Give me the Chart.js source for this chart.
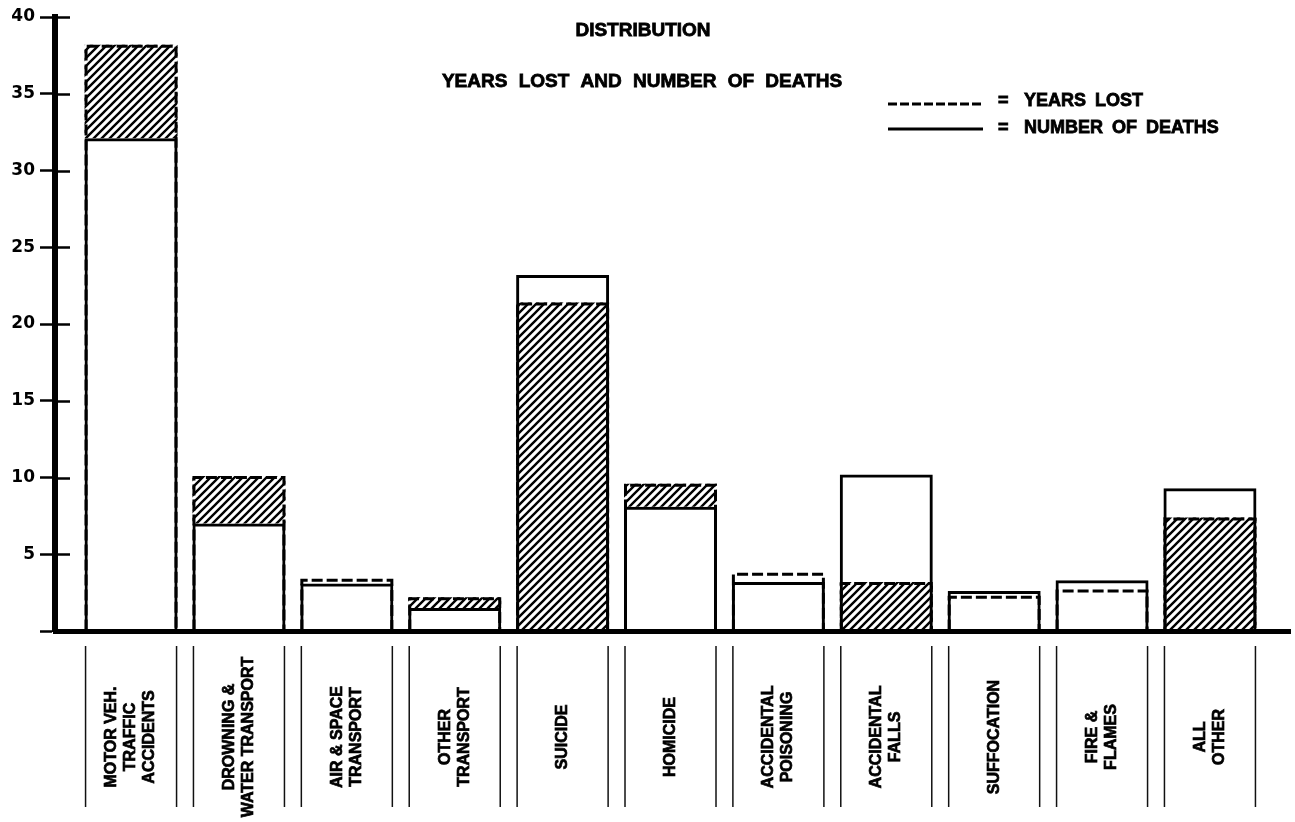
<!DOCTYPE html>
<html>
<head>
<meta charset="utf-8">
<title>Distribution - Years Lost and Number of Deaths</title>
<script src="https://cdn.jsdelivr.net/npm/chart.js@4.4.1/dist/chart.umd.min.js"></script>
<style>
  html, body { margin: 0; padding: 0; background: #fff; }
  #wrap { width: 1295px; height: 822px; }
</style>
</head>
<body>
<div id="wrap"><canvas id="chart" width="1295" height="822"></canvas></div>
<script>
// ============================================================
// DATA
// ============================================================
const categories = [
  ["MOTOR VEH.", "TRAFFIC", "ACCIDENTS"],
  ["DROWNING &", "WATER TRANSPORT"],
  ["AIR & SPACE", "TRANSPORT"],
  ["OTHER", "TRANSPORT"],
  ["SUICIDE"],
  ["HOMICIDE"],
  ["ACCIDENTAL", "POISONING"],
  ["ACCIDENTAL", "FALLS"],
  ["SUFFOCATION"],
  ["FIRE &", "FLAMES"],
  ["ALL", "OTHER"],
];
// percent of total
const yearsLost = [38.2, 10.1, 3.4, 2.2, 21.4, 9.6, 3.8, 3.2, 2.3, 2.7, 7.4];
const deaths = [32.1, 7.0, 3.1, 1.5, 23.2, 8.1, 3.2, 10.2, 2.6, 3.3, 9.3];
// categories where the gap is cross-hatched
const shaded = [true, true, false, true, true, true, false, true, false, false, true];
const yTickValues = [0, 5, 10, 15, 20, 25, 30, 35, 40];

const titleText = "DISTRIBUTION";
const subtitleText = "YEARS LOST AND NUMBER OF DEATHS";
const legendYears = "YEARS LOST";
const legendDeaths = "NUMBER OF DEATHS";

// ============================================================
// HELPERS
// ============================================================
const canvas = document.getElementById("chart");
const mainCtx = canvas.getContext("2d");

function makeHatch() {
  const c = document.createElement("canvas");
  c.width = 8;
  c.height = 8;
  const g = c.getContext("2d");
  g.strokeStyle = "#000";
  g.lineWidth = 2.4;
  g.beginPath();
  g.moveTo(-1, 9);
  g.lineTo(9, -1);
  g.moveTo(-3, 3);
  g.lineTo(3, -3);
  g.moveTo(5, 11);
  g.lineTo(11, 5);
  g.stroke();
  return mainCtx.createPattern(c, "repeat");
}

// hatched part: the excess of years lost over deaths,
// or the whole years-lost bar when it sits inside the deaths bar
const hatchData = [];
categories.forEach((_, i) => {
  if (!shaded[i]) return;
  const lo = yearsLost[i] > deaths[i] ? deaths[i] : 0;
  hatchData.push({ x: i, y: [lo, yearsLost[i]] });
});

const FONT = '"Liberation Sans", Arial, sans-serif';
const BAR_PCT = 0.862;

// heavy text: fill plus a thin stroke, closer to the old print
function heavyText(ctx, txt, x, y, w) {
  ctx.lineWidth = w;
  ctx.strokeStyle = "#000";
  ctx.strokeText(txt, x, y);
  ctx.fillText(txt, x, y);
}

// ============================================================
// PLUGINS
// ============================================================
// years lost outline, drawn right after the hatch so the solid
// deaths outline lands on top of it
const dashedOutline = {
  id: "dashedOutline",
  afterDatasetDraw(chart, args) {
    if (args.index !== 0) return;
    const ctx = chart.ctx;
    const meta = chart.getDatasetMeta(2);
    ctx.save();
    ctx.strokeStyle = "#000";
    ctx.lineWidth = 3;
    ctx.setLineDash([11, 4]);
    meta.data.forEach((bar) => {
      const p = bar.getProps(["x", "y", "base", "width"], true);
      const l = p.x - p.width / 2 + 1.5;
      const r = p.x + p.width / 2 - 1.5;
      const top = p.y + 1.5;
      ctx.beginPath();
      ctx.moveTo(l, p.base);
      ctx.lineTo(l, top);
      ctx.lineTo(r, top);
      ctx.lineTo(r, p.base);
      ctx.stroke();
    });
    ctx.restore();
  },
};

const decorations = {
  id: "decorations",
  afterDraw(chart) {
    const ctx = chart.ctx;
    const area = chart.chartArea;
    const yScale = chart.scales.y;
    ctx.save();

    // tick stubs inside the plot
    ctx.strokeStyle = "#000";
    ctx.lineWidth = 2.5;
    yTickValues.forEach((v) => {
      if (v === 0) return;
      const y = Math.round(yScale.getPixelForValue(v)) + 0.5;
      ctx.beginPath();
      ctx.moveTo(area.left, y);
      ctx.lineTo(area.left + 15, y);
      ctx.stroke();
    });

    // separators and rotated category names under the axis
    const meta = chart.getDatasetMeta(1);
    const lineTop = area.bottom + 15;
    const lineBottom = area.bottom + 176;
    const labelMid = area.bottom + 106;
    meta.data.forEach((bar, i) => {
      const p = bar.getProps(["x", "width"], true);
      ctx.lineWidth = 1.5;
      ctx.strokeStyle = "#111";
      [p.x - p.width / 2 + 1, p.x + p.width / 2 - 1].forEach((x) => {
        ctx.beginPath();
        ctx.moveTo(x, lineTop);
        ctx.lineTo(x, lineBottom);
        ctx.stroke();
      });
      const lines = categories[i];
      ctx.fillStyle = "#000";
      ctx.font = "bold 16px " + FONT;
      ctx.textAlign = "center";
      ctx.textBaseline = "middle";
      lines.forEach((txt, k) => {
        const x = p.x + (k - (lines.length - 1) / 2) * 19;
        ctx.save();
        ctx.translate(x, labelMid);
        ctx.rotate(-Math.PI / 2);
        heavyText(ctx, txt, 0, 0, 0.7);
        ctx.restore();
      });
    });

    // title + subtitle
    ctx.fillStyle = "#000";
    ctx.textAlign = "center";
    ctx.textBaseline = "alphabetic";
    ctx.font = "bold 19px " + FONT;
    heavyText(ctx, titleText, 643, 36, 0.8);
    ctx.wordSpacing = "6px";
    heavyText(ctx, subtitleText, 642, 87, 0.8);
    ctx.wordSpacing = "0px";

    // legend
    ctx.lineWidth = 3;
    ctx.strokeStyle = "#000";
    ctx.setLineDash([9, 3]);
    ctx.beginPath();
    ctx.moveTo(888, 104);
    ctx.lineTo(983, 104);
    ctx.stroke();
    ctx.setLineDash([]);
    ctx.beginPath();
    ctx.moveTo(888, 129);
    ctx.lineTo(983, 129);
    ctx.stroke();
    ctx.textAlign = "left";
    ctx.font = "bold 18px " + FONT;
    ctx.wordSpacing = "4px";
    heavyText(ctx, "=", 998, 106, 0.8);
    heavyText(ctx, legendYears, 1024, 106, 0.8);
    heavyText(ctx, "=", 998, 133, 0.8);
    heavyText(ctx, legendDeaths, 1024, 133, 0.8);
    ctx.restore();
  },
};

// ============================================================
// CHART
// ============================================================
const common = {
  grouped: false,
  categoryPercentage: 1,
  barPercentage: BAR_PCT,
};

new Chart(mainCtx, {
  type: "bar",
  data: {
    datasets: [
      {
        ...common,
        label: "shaded",
        data: hatchData,
        backgroundColor: makeHatch(),
        borderWidth: 0,
        order: 3,
      },
      {
        ...common,
        label: legendDeaths,
        data: deaths.map((v, i) => ({ x: i, y: v })),
        backgroundColor: "rgba(0,0,0,0)",
        borderColor: "#000",
        borderWidth: 3,
        borderSkipped: "bottom",
        order: 2,
      },
      {
        ...common,
        label: legendYears,
        data: yearsLost.map((v, i) => ({ x: i, y: v })),
        backgroundColor: "rgba(0,0,0,0)",
        borderWidth: 0,
        order: 1,
      },
    ],
  },
  options: {
    responsive: false,
    animation: false,
    layout: { padding: { top: 17, right: 5, left: 0, bottom: 0 } },
    plugins: {
      legend: { display: false },
      title: { display: false },
      tooltip: { enabled: false },
    },
    scales: {
      x: {
        type: "linear",
        min: -0.705,
        max: 10.742,
        offset: false,
        grid: { display: false, offset: false },
        border: { display: true, width: 5, color: "#000" },
        ticks: { display: false },
        afterBuildTicks: (s) => {
          s.ticks = categories.map((_, i) => ({ value: i }));
        },
        afterFit: (s) => {
          s.height = 191;
        },
      },
      y: {
        min: 0,
        max: 40,
        grid: {
          drawOnChartArea: false,
          drawTicks: true,
          tickLength: 15,
          tickWidth: 2.5,
          tickColor: "#000",
        },
        border: { display: true, width: 6, color: "#000" },
        afterBuildTicks: (s) => {
          s.ticks = yTickValues.map((v) => ({ value: v }));
        },
        ticks: {
          padding: 5,
          color: "#000",
          font: { family: '"DejaVu Sans", sans-serif', size: 17, weight: "bold" },
          callback: (v) => (v === 0 ? "" : v),
        },
        afterFit: (s) => {
          s.width = 55;
        },
      },
    },
  },
  plugins: [dashedOutline, decorations],
});
</script>
</body>
</html>
